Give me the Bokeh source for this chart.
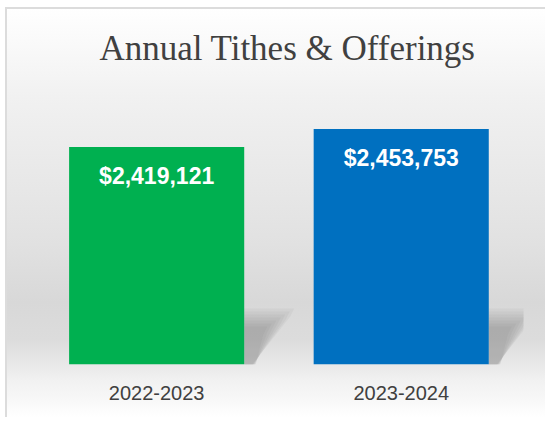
from bokeh.plotting import figure
from bokeh.models import Range1d, FixedTicker, ColumnDataSource
from bokeh.core.properties import value
from bokeh.embed import file_html
from bokeh.resources import INLINE

# ---- data ----
categories = ["2022-2023", "2023-2024"]
amounts = [2419121, 2453753]
bar_colors = ["#00B050", "#0070C0"]
value_labels = ["$2,419,121", "$2,453,753"]

# ---- scales ----
y_start = 2000000
y_end = 2547300
x_start, x_end = -0.430, 1.500
bar_width = 0.716

xs = list(range(len(categories)))

p = figure(width=540, height=410, output_backend="svg", toolbar_location=None,
           x_range=Range1d(x_start, x_end), y_range=Range1d(y_start, y_end),
           min_border_left=46, min_border_right=22, min_border_bottom=53,
           min_border_top=73,
           title="Annual Tithes & Offerings")

p.styles = {
    "margin-left": "5px",
    "margin-top": "7px",
    "background": "linear-gradient(to bottom, #ffffff 0%, #fafafa 8%, #f1f1f1 22%, #e9e9e9 40%, #e1e1e1 58%, #d8d8d8 72%, #dcdcdc 81%, #e8e8e8 87%, #f1f1f1 91%, #f8f8f8 96%, #ffffff 100%)",
    "box-shadow": "inset 2px 2px 0 #dcdcdc",
}
p.background_fill_alpha = 0
p.border_fill_alpha = 0
p.outline_line_color = None
p.grid.visible = False
p.yaxis.visible = False

p.title.align = "center"
p.title.text_font = "Liberation Serif"
p.title.text_font_style = "normal"
p.title.text_font_size = "35px"
p.title.text_color = "#404040"
p.title.standoff = 26

# ---- shadows (derived from bar positions) ----
px_x = (x_end - x_start) / 472.0
px_y = (y_end - y_start) / 284.0
shadow_xs, shadow_ys = [], []
for i in xs:
    xr = i + bar_width / 2
    for k in range(7):
        ins = k * 3
        pts = [(0, 0), (0, 56 - ins), (50 - ins * 1.5, 56 - ins), (46 - ins * 1.5, 48 - ins), (8 + ins * 0.2, 0)]
        shadow_xs.append([xr + a * px_x for a, b in pts])
        shadow_ys.append([y_start + b * px_y for a, b in pts])
p.patches(shadow_xs, shadow_ys, fill_color="#707070", fill_alpha=0.065, line_color=None)

src = ColumnDataSource(dict(x=xs, top=amounts, color=bar_colors, label=value_labels))
p.vbar(x="x", top="top", bottom=y_start, width=bar_width, fill_color="color", line_color=None, source=src)

p.text(x="x", y="top", text="label", source=src, text_color="white",
       text_font=value("Liberation Sans"), text_font_style="bold", text_font_size="23px",
       text_align="center", text_baseline="middle", y_offset=29)

p.xaxis.ticker = FixedTicker(ticks=xs)
p.xaxis.major_label_overrides = {i: c for i, c in zip(xs, categories)}
p.xaxis.axis_line_color = None
p.xaxis.major_tick_line_color = None
p.xaxis.minor_tick_line_color = None
p.xaxis.major_tick_out = 0
p.xaxis.major_tick_in = 0
p.xaxis.major_label_standoff = 21
p.xaxis.major_label_text_font = "Liberation Sans"
p.xaxis.major_label_text_font_size = "20px"
p.xaxis.major_label_text_color = "#404040"

open("out.html", "w").write(file_html(p, INLINE))
